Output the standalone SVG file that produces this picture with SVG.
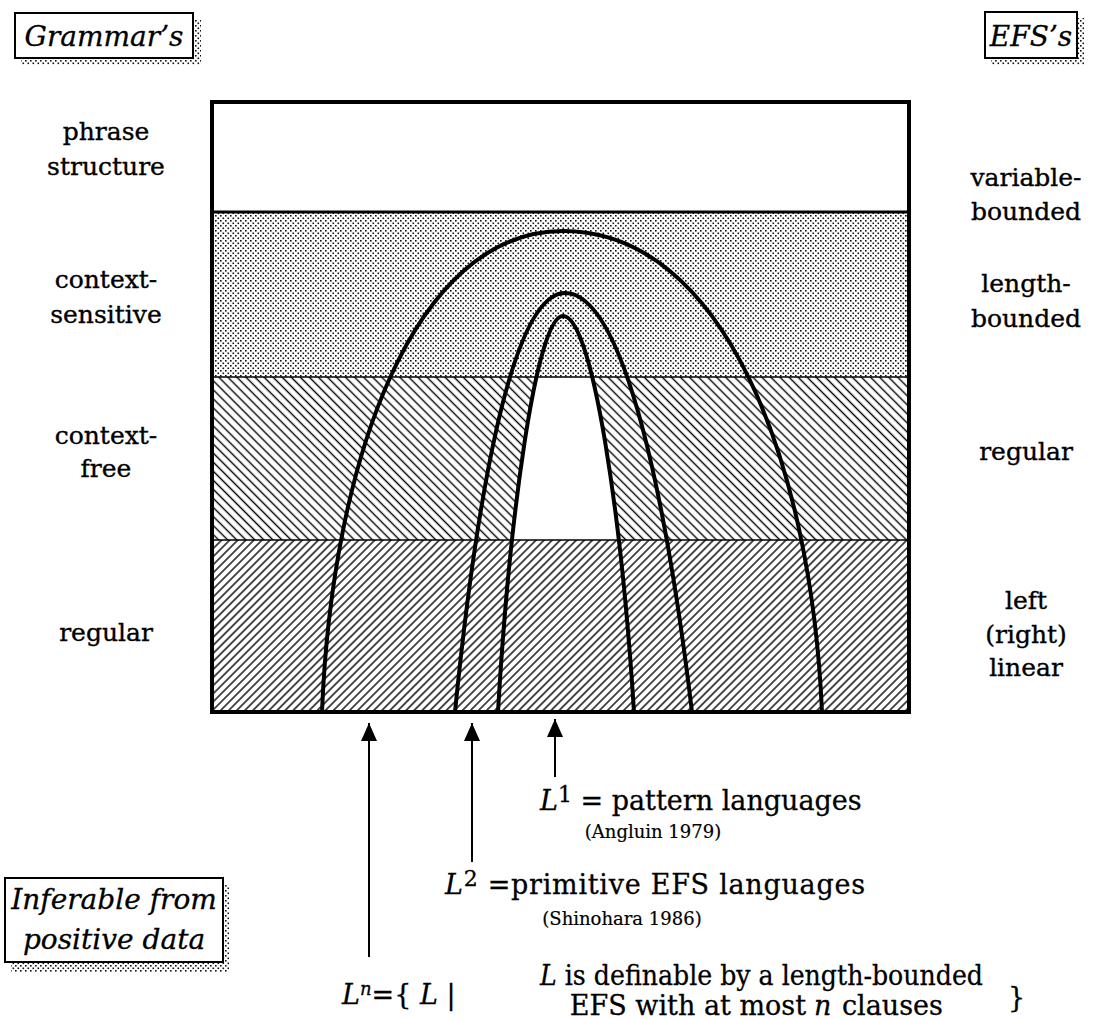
<svg xmlns="http://www.w3.org/2000/svg" width="1095" height="1019" viewBox="0 0 1095 1019">
<style>
.lbl{font-family:"DejaVu Serif","Liberation Serif",serif;font-size:25px;fill:#000;stroke:#000;stroke-width:0.35;text-anchor:middle}
.it{font-family:"DejaVu Serif","Liberation Serif",serif;font-style:italic;font-size:28px;fill:#000;stroke:#000;stroke-width:0.3;text-anchor:middle}
.math{font-family:"DejaVu Serif","Liberation Serif",serif;font-size:27px;fill:#000;stroke:#000;stroke-width:0.3}
.cite{font-family:"DejaVu Serif","Liberation Serif",serif;font-size:18px;fill:#000;stroke:#000;stroke-width:0.2;text-anchor:middle}
.arch{fill:none;stroke:#000;stroke-width:4;stroke-linejoin:round}
.box{fill:#fff;stroke:#000;stroke-width:2}
.arrow{stroke:#000;stroke-width:2;marker-end:url(#head)}
</style>
<defs>
<pattern id="dots" width="5" height="5" patternUnits="userSpaceOnUse"><rect x="0" y="0" width="1.6" height="1.6" fill="#111"/><rect x="2.5" y="2.5" width="1.6" height="1.6" fill="#111"/></pattern>
<pattern id="hb" width="10" height="6.4" patternUnits="userSpaceOnUse" patternTransform="rotate(45)"><line x1="0" y1="3.2" x2="10" y2="3.2" stroke="#000" stroke-width="1.4"/></pattern>
<pattern id="hf" width="10" height="5.7" patternUnits="userSpaceOnUse" patternTransform="rotate(-45)"><line x1="0" y1="2.85" x2="10" y2="2.85" stroke="#000" stroke-width="1.4"/></pattern>
<clipPath id="innerClip"><path d="M498 712 C509 522 536 316 563 316 C593 316 622 522 634 712 Z"/></clipPath>
<marker id="head" viewBox="0 0 18 16" refX="18" refY="8" markerWidth="18" markerHeight="16" markerUnits="userSpaceOnUse" orient="auto"><path d="M0 0 L18 8 L0 16 Z" fill="#000"/></marker>
</defs>
<rect width="1095" height="1019" fill="#fff"/>

<g id="label-boxes">
<g id="grammars">
<rect x="21" y="19" width="180" height="46" fill="url(#dots)"/>
<rect class="box" x="15" y="13" width="178" height="45"/>
<text class="it" x="104" y="46">Grammar’s</text>
</g>
<g id="efss">
<rect x="991" y="18" width="93" height="47" fill="url(#dots)"/>
<rect class="box" x="985" y="12" width="92" height="46"/>
<text class="it" x="1031" y="46">EFS’s</text>
</g>
<g id="inferable">
<rect x="11" y="884" width="218" height="88" fill="url(#dots)"/>
<rect class="box" x="5" y="878" width="218" height="84"/>
<text class="it" x="114" y="909">Inferable from</text>
<text class="it" x="114" y="949">positive data</text>
</g>
</g>

<g id="hierarchy">
<rect id="band-phrase" x="212" y="102" width="697" height="110" fill="#fff"/>
<rect id="band-cs" x="212" y="212" width="697" height="165" fill="url(#dots)"/>
<rect id="band-cf" x="212" y="377" width="697" height="163" fill="url(#hb)"/>
<rect id="band-reg" x="212" y="540" width="697" height="172" fill="url(#hf)"/>
<rect x="200" y="377" width="500" height="163" fill="#fff" clip-path="url(#innerClip)"/>
<line x1="212" y1="212" x2="909" y2="212" stroke="#000" stroke-width="3"/>
<line x1="212" y1="377" x2="909" y2="377" stroke="#000" stroke-width="1.6"/>
<line x1="212" y1="540" x2="909" y2="540" stroke="#000" stroke-width="1.6"/>
<path id="arch-n" class="arch" d="M322 712 C332 462 413 231 563 231 C724 231 811 462 822 712"/>
<path id="arch-2" class="arch" d="M455 712 C475 512 510 293 565 293 C626 293 668 512 692 712"/>
<path id="arch-1" class="arch" d="M498 712 C509 522 536 316 563 316 C593 316 622 522 634 712"/>
<rect x="212" y="102" width="697" height="610" fill="none" stroke="#000" stroke-width="4"/>
</g>

<g id="grammar-labels">
<text class="lbl" x="106" y="140">phrase</text>
<text class="lbl" x="106" y="175">structure</text>
<text class="lbl" x="106" y="288">context-</text>
<text class="lbl" x="106" y="323">sensitive</text>
<text class="lbl" x="106" y="444">context-</text>
<text class="lbl" x="106" y="477">free</text>
<text class="lbl" x="106" y="641">regular</text>
</g>
<g id="efs-labels">
<text class="lbl" x="1026" y="186">variable-</text>
<text class="lbl" x="1026" y="220">bounded</text>
<text class="lbl" x="1026" y="292">length-</text>
<text class="lbl" x="1026" y="327">bounded</text>
<text class="lbl" x="1026" y="460">regular</text>
<text class="lbl" x="1026" y="609">left</text>
<text class="lbl" x="1026" y="643">(right)</text>
<text class="lbl" x="1026" y="676">linear</text>
</g>

<g id="connectors">
<line class="arrow" x1="369" y1="957" x2="369" y2="723"/>
<line class="arrow" x1="472" y1="862" x2="472" y2="723"/>
<line class="arrow" x1="555" y1="777" x2="555" y2="719"/>
</g>

<g id="L1-label">
<text class="math" x="540" y="810"><tspan font-style="italic">L</tspan><tspan dy="-8" font-size="22">1</tspan><tspan dy="8"> = pattern languages</tspan></text>
<text class="cite" x="653" y="838">(Angluin 1979)</text>
</g>
<g id="L2-label">
<text class="math" x="445" y="894" textLength="420" lengthAdjust="spacing"><tspan font-style="italic">L</tspan><tspan dy="-8" font-size="22">2</tspan><tspan dy="8"> =primitive EFS  languages</tspan></text>
<text class="cite" x="622" y="925">(Shinohara 1986)</text>
</g>
<g id="Ln-label">
<text class="math" x="342" y="1004"><tspan font-style="italic">L</tspan><tspan dy="-9" font-size="18" font-style="italic">n</tspan><tspan dy="9">={ </tspan><tspan font-style="italic">L</tspan><tspan> |</tspan></text>
<text class="math" x="540" y="985" font-size="21" textLength="443" lengthAdjust="spacingAndGlyphs"><tspan font-style="italic">L</tspan> is definable by a length-bounded</text>
<text class="math" x="806" y="1015" font-size="23" text-anchor="end">EFS with at most</text>
<text class="math" x="814" y="1015" font-size="23" font-style="italic">n</text>
<text class="math" x="842" y="1015" font-size="23">clauses</text>
<text class="math" x="1008" y="1007" font-size="32">}</text>
</g>
</svg>
